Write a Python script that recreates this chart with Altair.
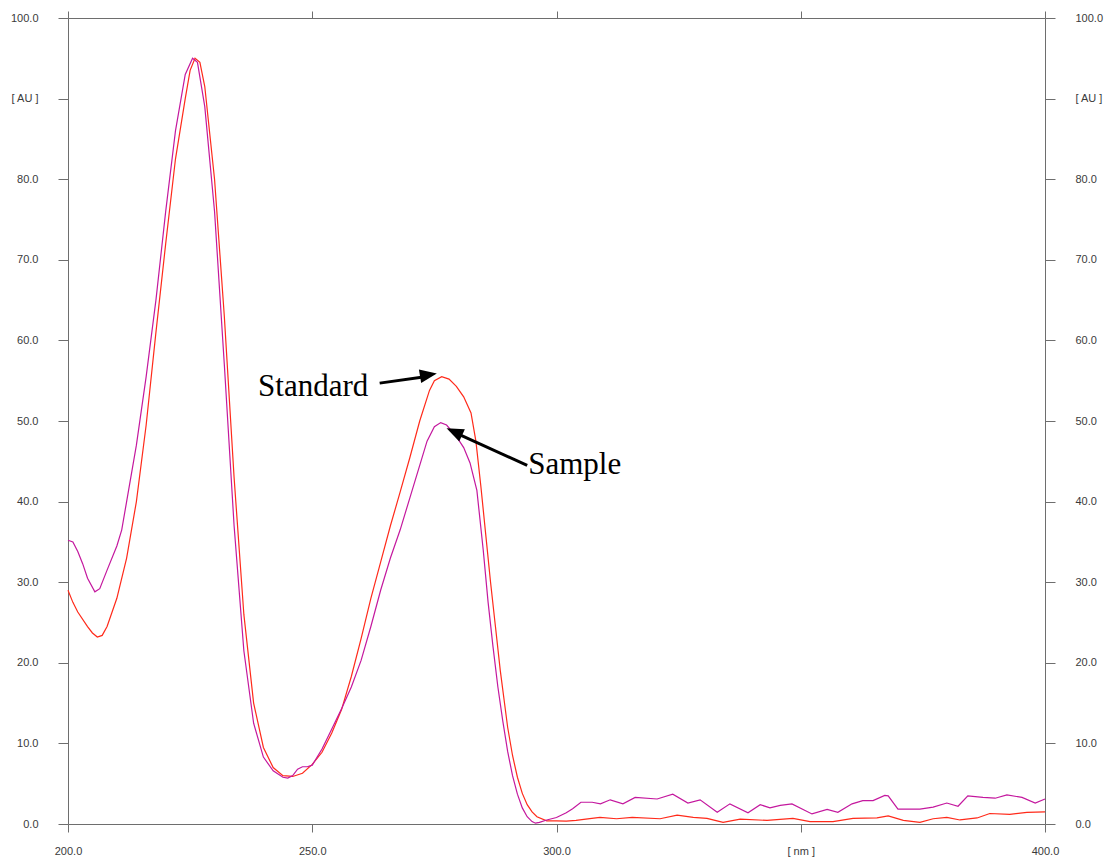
import altair as alt
import pandas as pd

# ---- data ----
std_nm = [200, 201, 202, 204, 205, 206, 207, 208, 210, 212, 214, 216, 218, 220, 222, 224, 225, 226, 227, 228,
          230, 232, 234, 236, 238, 240, 242, 244, 246, 248, 250, 252, 254, 256, 258, 260, 262, 264, 266, 268,
          270, 272, 274, 275, 276.5, 278, 279.5, 281, 282.5, 283.5, 284.5, 285.5, 286.5, 287.5, 288.5,
          290, 291, 292, 293, 294, 295, 296, 298, 300, 302, 304, 306, 308.9, 312.3, 315.5, 321.2, 324.7, 328,
          330.8, 334.1, 337.6, 343.1, 348.4, 351.9, 356.6, 360.7, 365.6, 367.9, 371, 374.4, 377.1, 379.9,
          382.6, 386.1, 388.7, 392.8, 396.3, 400]
std_au = [29.0, 27.5, 26.3, 24.5, 23.7, 23.2, 23.4, 24.5, 28.0, 33.0, 40.0, 49.5, 61.0, 72.0, 82.5, 90.0, 93.5, 95.0, 94.5, 91.5,
          80.0, 63.0, 43.0, 26.0, 15.0, 9.5, 7.0, 6.0, 5.9, 6.3, 7.4, 8.9, 11.3, 14.2, 18.3, 23.0, 28.0, 32.5, 37.0, 41.2,
          45.5, 50.0, 53.8, 55.0, 55.5, 55.2, 54.3, 53.0, 51.0, 47.5, 42.0, 36.0, 30.0, 24.5, 19.0,
          12.0, 8.5, 5.8, 3.8, 2.4, 1.5, 0.9, 0.4, 0.4, 0.35, 0.45, 0.6, 0.83, 0.65, 0.83, 0.65, 1.1, 0.83,
          0.7, 0.2, 0.6, 0.45, 0.7, 0.3, 0.3, 0.7, 0.75, 1.0, 0.45, 0.2, 0.65, 0.83,
          0.5, 0.75, 1.3, 1.2, 1.45, 1.5]

smp_nm = [200, 201, 202, 203, 204, 205.5, 206.5, 208, 210, 211, 212, 214, 216, 218, 220, 222, 224, 225.5, 226.5, 228,
          230, 232, 234, 236, 238, 240, 242, 244, 245, 246, 247, 248, 249, 250, 252, 254, 256, 258, 260, 262,
          264, 266, 268, 270, 272, 273.5, 275, 276.3, 277.5, 279.6, 281, 282.3, 283.7, 285, 286, 287, 288, 289,
          290, 291, 292, 293, 294, 295, 295.7, 296.5, 298, 300, 302, 303.3, 305, 307.3, 309, 311, 313.6, 316.1,
          320.6, 323.8, 326.9, 329.4, 332.9, 335.5, 339.2, 341.7, 343.7, 345.8, 348.2, 352.3, 355.4, 357.6,
          360.5, 362.7, 364.8, 367.2, 367.9, 369.9, 374.4, 377.1, 379.9, 382.2, 384.2, 387.3, 389.8, 392.2,
          395.3, 398, 400]
smp_au = [35.2, 35.0, 33.8, 32.3, 30.5, 28.8, 29.2, 31.5, 34.5, 36.5, 40.0, 47.0, 55.5, 65.0, 76.0, 86.0, 93.0, 95.0, 94.5, 89.0,
          76.0, 57.0, 37.0, 21.5, 12.5, 8.3, 6.6, 5.8, 5.7, 6.0, 6.8, 7.1, 7.1, 7.3, 9.3, 11.8, 14.3, 17.0, 20.3, 24.5,
          29.0, 33.0, 36.5, 40.5, 44.5, 47.5, 49.3, 49.8, 49.5, 48.0, 46.7, 44.8, 41.4, 34.0, 27.5, 22.0, 17.0, 12.8,
          9.0, 6.0, 3.7, 2.0, 0.9, 0.3, 0.1, 0.2, 0.5, 0.8, 1.4, 1.9, 2.7, 2.7, 2.5, 3.0, 2.5, 3.3,
          3.1, 3.7, 2.6, 3.0, 1.45, 2.5, 1.4, 2.4, 2.0, 2.3, 2.5, 1.25, 1.8, 1.45,
          2.5, 2.9, 2.9, 3.55, 3.5, 1.85, 1.85, 2.1, 2.6, 2.2, 3.5, 3.3, 3.2, 3.6,
          3.3, 2.6, 3.1]

x_ticks = [200, 250, 300, 350, 400]
y_ticks = [0, 10, 20, 30, 40, 50, 60, 70, 80, 90, 100]

# annotations
label_text = ["Standard", "Sample"]
label_nm = [238.9, 294.2]
label_au = [53.1, 43.4]
shaft_nm = [263.8, 294.0]
shaft_au = [54.7, 44.5]
shaft_end_nm = [273.1, 279.8]
shaft_end_au = [55.5, 48.4]
head_nm = [275.5, 277.5]
head_au = [55.9, 49.1]
head_angle = [350.5, 204.6]

RED = "#FF2A1A"
MAG = "#C4189E"
AXC = "#6E6E6E"
LBC = "#3A3A3A"

std = pd.DataFrame({"nm": std_nm, "au": std_au})
smp = pd.DataFrame({"nm": smp_nm, "au": smp_au})
labels = pd.DataFrame({"t": label_text, "nm": label_nm, "au": label_au})
shafts = pd.DataFrame({"nm": shaft_nm, "au": shaft_au, "nm2": shaft_end_nm, "au2": shaft_end_au})
heads = pd.DataFrame({"nm": head_nm, "au": head_au, "ang": head_angle})

xs = alt.Scale(domain=[200, 400], nice=False, zero=False)
ys = alt.Scale(domain=[0, 100], nice=False, zero=False)

xlab = "datum.value == 350 ? '[ nm ]' : format(datum.value, '.1f')"
ylab = "datum.value == 90 ? '[ AU ]' : format(datum.value, '.1f')"

common_axis = dict(domainColor=AXC, tickColor=AXC, labelColor=LBC, labelFont="Liberation Sans",
                   labelFontSize=11, grid=False, title=None, domainWidth=1, tickWidth=1,
                   labelFlush=False, labelOverlap=False)

std_line = alt.Chart(std).mark_line(color=RED, strokeWidth=1.2).encode(
    x=alt.X("nm:Q", scale=xs, axis=alt.Axis(orient="bottom", values=x_ticks, tickSize=8, labelPadding=13,
                                             labelExpr=xlab, **common_axis)),
    y=alt.Y("au:Q", scale=ys, axis=alt.Axis(orient="left", values=y_ticks, tickSize=10, labelPadding=20,
                                             labelExpr=ylab, **common_axis)),
)

smp_line = alt.Chart(smp).mark_line(color=MAG, strokeWidth=1.2).encode(
    x=alt.X("nm:Q", scale=xs, axis=alt.Axis(orient="top", values=x_ticks, tickSize=7, labels=False,
                                             **common_axis)),
    y=alt.Y("au:Q", scale=ys, axis=alt.Axis(orient="right", values=y_ticks, tickSize=10, labelPadding=20,
                                             labelExpr=ylab, **common_axis)),
)

txt = alt.Chart(labels).mark_text(font="Liberation Serif", fontSize=31, align="left",
                                  baseline="alphabetic", color="black").encode(
    x=alt.X("nm:Q", scale=xs, axis=None),
    y=alt.Y("au:Q", scale=ys, axis=None),
    text="t:N",
)

shaft = alt.Chart(shafts).mark_rule(color="black", strokeWidth=3).encode(
    x=alt.X("nm:Q", scale=xs, axis=None),
    y=alt.Y("au:Q", scale=ys, axis=None),
    x2="nm2:Q",
    y2="au2:Q",
)

head = alt.Chart(heads).mark_point(shape="M0,0 L-2,-0.8 L-2,0.8 Z", filled=True, color="black",
                                   opacity=1, size=289, strokeWidth=0).encode(
    x=alt.X("nm:Q", scale=xs, axis=None),
    y=alt.Y("au:Q", scale=ys, axis=None),
    angle=alt.Angle("ang:Q", scale=None),
)

chart = alt.layer(std_line, smp_line, shaft, head, txt).resolve_scale(
    x="independent", y="independent"
).properties(
    width=977, height=806,
    autosize=alt.AutoSizeParams(type="none"),
    padding={"left": 68, "top": 18, "right": 63, "bottom": 37},
    background="white",
).configure_view(stroke=None)

chart.save("out.html", embed_options={"renderer": "svg", "actions": False})
